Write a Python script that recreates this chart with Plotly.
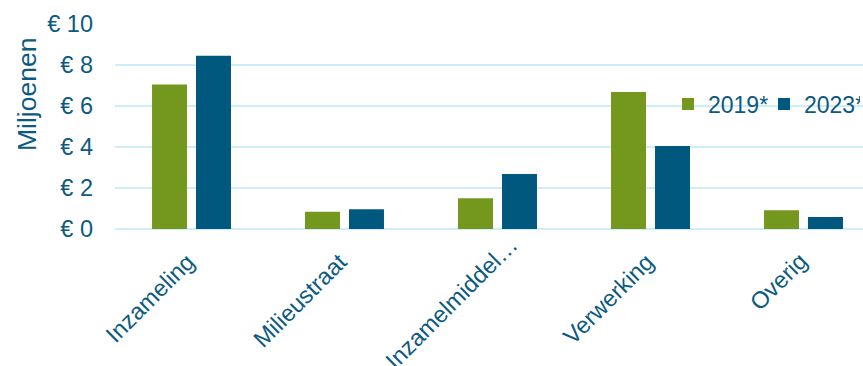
import math
import plotly.graph_objects as go

categories = ["Inzameling", "Milieustraat", "Inzamelmiddel…", "Verwerking", "Overig"]
values_2019 = [7.05, 0.84, 1.50, 6.68, 0.92]
values_2023 = [8.45, 0.96, 2.68, 4.05, 0.58]
series_names = ["2019*", "2023*"]
y_ticks = [0, 2, 4, 6, 8, 10]
y_tick_text = ["€ " + str(v) for v in y_ticks]
y_title = "Miljoenen"

GREEN = "#74981E"
BLUE = "#00587F"
TEXT = "#0B5A80"
GRID = "#CDEDFA"
FONT = "Arial, 'Liberation Sans', sans-serif"
LABEL_SIZE = 23.5

W, H = 863, 366
ML, MR, MT, MB = 115, 0, 24, 137
cat_px = 153.0
x_hi = -0.5 + (W - ML - MR) / cat_px

fig = go.Figure()
fig.add_trace(go.Bar(x=categories, y=values_2019, name=series_names[0],
                     marker=dict(color=GREEN, line=dict(width=0))))
fig.add_trace(go.Bar(x=categories, y=values_2023, name=series_names[1],
                     marker=dict(color=BLUE, line=dict(width=0))))

# vertical axis title, placed in pixel terms left of the tick labels
fig.add_annotation(text=y_title, textangle=-90, showarrow=False,
                   xref="paper", yref="paper",
                   x=(27 - ML) / (W - ML - MR), y=(H - MB - 95) / (H - MT - MB),
                   xanchor="center", yanchor="middle",
                   font=dict(size=26.5, color=TEXT))

# slanted category labels: the text (without a trailing ellipsis) ends just
# right of the category centre; a truncation ellipsis runs on past that point
diag = 1 / math.sqrt(2)
for cat in categories:
    run_on = LABEL_SIZE * diag if cat.endswith("…") else 0.0
    fig.add_annotation(text=cat, textangle=-45, showarrow=False,
                       xref="x", yref="paper", x=cat, y=0,
                       xanchor="right", yanchor="top",
                       xshift=11 + run_on, yshift=-16.5 + run_on,
                       font=dict(size=LABEL_SIZE, color=TEXT))

fig.update_layout(
    width=W, height=H,
    margin=dict(l=ML, r=MR, t=MT, b=MB, autoexpand=False),
    paper_bgcolor="white", plot_bgcolor="white",
    font=dict(family=FONT, size=23, color=TEXT),
    barmode="group", bargap=0.425, bargroupgap=0.205,
    showlegend=True,
    legend=dict(orientation="h", x=(668 - ML) / (W - ML), xanchor="left",
                y=0.61, yanchor="middle", font=dict(size=23, color=TEXT),
                itemwidth=30, entrywidth=51, entrywidthmode="pixels",
                bgcolor="rgba(0,0,0,0)", traceorder="normal"),
    xaxis=dict(range=[-0.5, x_hi], showgrid=False, showticklabels=False,
               showline=False, zeroline=False, ticks="", automargin=False),
    yaxis=dict(range=[0, 10], tickmode="array", tickvals=y_ticks,
               ticktext=y_tick_text,
               showgrid=True, gridcolor=GRID, gridwidth=1.5,
               zeroline=True, zerolinecolor=GRID, zerolinewidth=2,
               showline=False, ticks="", ticklabelstandoff=21,
               tickfont=dict(size=LABEL_SIZE, color=TEXT), automargin=False),
)

fig.write_html("out.html")
